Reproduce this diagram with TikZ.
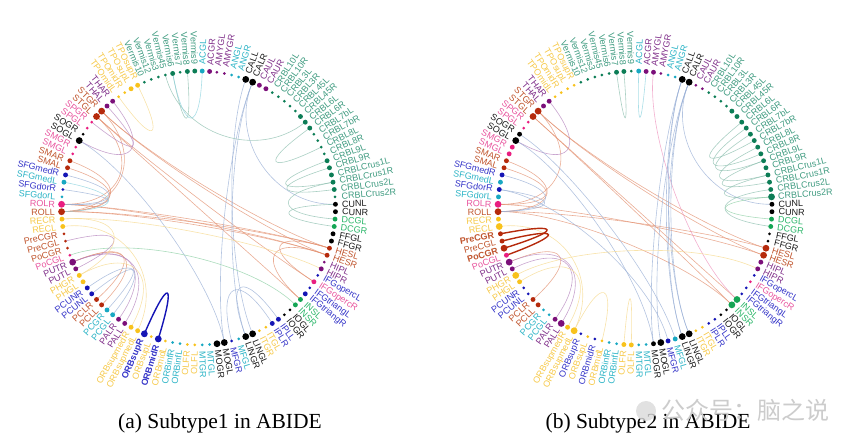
\documentclass[tikz,border=0pt]{standalone}
\usepackage{fontspec}
\setmainfont{Liberation Serif}
\setsansfont{Liberation Sans}
\newfontfamily\cjkfont{Noto Sans CJK SC}
\usetikzlibrary{calc}
\pgfdeclarelayer{chords}
\pgfsetlayers{chords,main}

% region colours: dot / label
\definecolor{gn}{HTML}{0C7D56} \definecolor{gnT}{HTML}{3F9B80}
\definecolor{yl}{HTML}{F8C21C} \definecolor{ylT}{HTML}{F6C94A}
\definecolor{pu}{HTML}{7B0F79} \definecolor{puT}{HTML}{80308A}
\definecolor{br}{HTML}{B52A0C} \definecolor{brT}{HTML}{C0552E}
\definecolor{pk}{HTML}{E91E80} \definecolor{pkT}{HTML}{E8559E}
\definecolor{bl}{HTML}{1515B5} \definecolor{blT}{HTML}{3535C8}
\definecolor{cy}{HTML}{18A8C2} \definecolor{cyT}{HTML}{2DB4C6}
\definecolor{bk}{HTML}{000000} \definecolor{bkT}{HTML}{1A1A1A}
\definecolor{gr}{HTML}{14A554} \definecolor{grT}{HTML}{2CB66A}
% chord colours
\definecolor{brL}{HTML}{E39272}
\definecolor{puL}{HTML}{B685BE}
\definecolor{blL}{HTML}{9AB0D6}
\definecolor{gnL}{HTML}{8DBFAF}
\definecolor{grL}{HTML}{8FD0A6}
\definecolor{cyL}{HTML}{8ED3DF}
\definecolor{ylL}{HTML}{F6D98E}
\definecolor{pkL}{HTML}{EE96BF}

\begin{document}
\begin{tikzpicture}[x=1pt,y=1pt,
    region/.style={font=\sffamily\fontsize{9}{9}\selectfont, inner sep=0pt},
    roi/.style={circle, inner sep=0pt, fill=#1},
    chord/.style={line width=0.6pt, draw opacity=0.75},
    strong/.style={line width=1.4pt},
    caption/.style={font=\fontsize{21.5}{24}\selectfont}]
\useasboundingbox (0,0) rectangle (865,444);

\coordinate (ca) at (198.5,236);
\coordinate (cb) at (635,236);

% dots and labels of the 116 regions, both panels
\foreach \pn/\ctr/\k in {a/ca/1, b/cb/2}{
  \foreach \nm/\col/\sa/\sb/\ba/\bb [count=\i from 0] in {
    ACGL/cy/2/2/0/0, ACGR/pu/2/2/0/0, AMYGL/pu/1/2/0/0, AMYGR/pu/1/1/0/0,
    ANGL/cy/1/1/0/0, ANGR/cy/1/1/0/0, CALL/bk/3/3/0/0, CALR/bk/3/3/0/0,
    CAUL/pu/2/1/0/0, CAUR/pu/2/1/0/0, CRBL10L/gn/1/1/0/0, CRBL10R/gn/1/1/0/0,
    CRBL3L/gn/1/1/0/0, CRBL3R/gn/1/1/0/0, CRBL45L/gn/1/2/0/0, CRBL45R/gn/2/2/0/0,
    CRBL6L/gn/2/2/0/0, CRBL6R/gn/2/2/0/0, CRBL7bL/gn/1/2/0/0, CRBL7bR/gn/1/2/0/0,
    CRBL8L/gn/1/2/0/0, CRBL8R/gn/1/2/0/0, CRBL9L/gn/2/2/0/0, CRBL9R/gn/2/2/0/0,
    CRBLCrus1L/gn/2/2/0/0, CRBLCrus1R/gn/2/2/0/0, CRBLCrus2L/gn/2/2/0/0, CRBLCrus2R/gn/1/3/0/0,
    CUNL/bk/2/2/0/0, CUNR/bk/2/2/0/0, DCGL/gr/2/2/0/0, DCGR/gr/2/2/0/0,
    FFGL/bk/2/1/0/0, FFGR/bk/2/1/0/0, HESL/br/2/3/0/0, HESR/br/2/3/0/0,
    HIPL/pu/1/2/0/0, HIPR/pu/2/2/0/0, IFGopercL/bl/1/1/0/0, IFGopercR/pk/2/1/0/0,
    IFGtriangL/bl/1/1/0/0, IFGtriangR/bl/2/1/0/0, INSL/gr/2/3/0/0, INSR/gr/2/3/0/0,
    IOGL/bk/1/1/0/0, IOGR/bk/1/1/0/0, IPLL/bl/2/1/0/0, IPLR/bl/2/1/0/0,
    ITGL/yl/1/1/0/0, ITGR/yl/1/1/0/0, LINGL/bk/3/3/0/0, LINGR/bk/3/3/0/0,
    MFGL/cy/1/2/0/0, MFGR/bl/1/2/0/0, MOGL/bk/3/3/0/0, MOGR/bk/3/2/0/0,
    MTGL/cy/1/1/0/0, MTGR/cy/1/1/0/0, OLFL/yl/1/2/0/0, OLFR/yl/1/2/0/0,
    ORBinfL/cy/1/1/0/0, ORBinfR/cy/1/1/0/0, ORBmidL/yl/1/1/0/0, ORBmidR/bl/3/1/1/0,
    ORBsupL/yl/1/1/0/0, ORBsupR/bl/3/1/1/0, ORBsupmedL/yl/2/3/0/0, ORBsupmedR/yl/2/2/0/0,
    PALL/pu/2/3/0/0, PALR/pu/2/2/0/0, PCGL/cy/2/1/0/0, PCGR/cy/2/1/0/0,
    PCLL/br/2/2/0/0, PCLR/br/2/2/0/0, PCUNL/bl/2/1/0/0, PCUNR/bl/2/1/0/0,
    PHGL/yl/2/2/0/0, PHGR/yl/2/3/0/0, PUTL/pu/2/2/0/0, PUTR/pu/3/3/0/0,
    PoCGL/pk/1/2/0/0, PoCGR/br/1/3/0/1, PreCGL/br/1/2/0/0, PreCGR/br/1/2/0/1,
    RECL/yl/2/3/0/0, RECR/yl/2/2/0/0, ROLL/br/3/3/0/0, ROLR/pk/3/3/0/0,
    SFGdorL/cy/1/2/0/0, SFGdorR/bl/1/2/0/0, SFGmedL/cy/2/2/0/0, SFGmedR/bl/2/2/0/0,
    SMAL/br/2/2/0/0, SMAR/br/2/2/0/0, SMGL/pk/1/2/0/0, SMGR/pk/1/2/0/0,
    SOGL/bk/3/3/0/0, SOGR/bk/1/2/0/0, SPGL/pk/1/1/0/0, SPGR/pk/1/1/0/0,
    STGL/br/3/3/0/0, STGR/br/3/3/0/0, THAL/pu/2/2/0/0, THAR/pu/2/2/0/0,
    TPOmidL/yl/1/1/0/0, TPOmidR/yl/1/1/0/0, TPOsupL/yl/2/1/0/0, TPOsupR/yl/2/1/0/0,
    Vermis10/gn/1/1/0/0, Vermis12/gn/1/1/0/0, Vermis3/gn/1/1/0/0, Vermis45/gn/1/1/0/0,
    Vermis6/gn/2/1/0/0, Vermis7/gn/1/2/0/0, Vermis8/gn/2/2/0/0, Vermis9/gn/2/1/0/0}{
    \ifnum\k=1 \let\sz\sa \let\bd\ba \else \let\sz\sb \let\bd\bb \fi
    \pgfmathsetmacro\ang{90-(\i+0.5)*(360/116)}
    \pgfmathsetmacro\dd{2*(0.55+0.95*\sz)}
    \ifnum\i<58 \def\anc{west}\pgfmathsetmacro\rot{\ang}\else \def\anc{east}\pgfmathsetmacro\rot{\ang+180}\fi
    \ifnum\bd=1 \def\wt{\bfseries}\else \def\wt{}\fi
    \node[roi=\col, minimum size=\dd pt] (\pn\i) at ($(\ctr)+(\ang:137)$) {};
    \node[region, anchor=\anc, rotate=\rot, text=\col T] (\pn l\i) at ($(\ctr)+(\ang:143.5)$) {\wt\nm};
  }
}

\begin{pgfonlayer}{chords}
  % (a) Subtype1
  \foreach \p/\q/\clr in {101/34/brL, 101/35/brL, 100/42/brL, 100/39/brL, 101/86/brL, 100/87/brL,
      86/34/brL, 86/35/brL, 87/35/brL, 87/34/brL, 86/92/brL, 86/93/brL, 34/39/brL, 35/42/brL,
      73/79/brL, 72/79/brL, 79/69/puL, 79/68/puL, 78/82/puL, 103/96/puL, 102/99/puL,
      6/50/blL, 7/51/blL, 7/54/blL, 7/28/blL, 96/54/blL, 91/87/blL, 89/87/blL, 47/53/blL,
      46/51/blL, 75/70/blL, 74/71/blL, 111/16/gnL, 112/114/gnL, 17/20/gnL, 22/25/gnL,
      23/26/gnL, 30/25/gnL, 28/31/gnL, 43/80/grL, 0/112/cyL, 90/86/cyL,
      107/104/ylL, 84/66/ylL, 85/77/ylL, 85/37/ylL, 67/77/ylL}
    \draw[chord, \clr] (a\p.center) .. controls ($(a\p.center)!0.45!(ca)$) and ($(a\q.center)!0.45!(ca)$) .. (a\q.center);
  \draw[strong, bl] (a65.center) .. controls ($(a65.center)!0.45!(ca)$) and ($(a63.center)!0.45!(ca)$) .. (a63.center);

  % (b) Subtype2
  \foreach \p/\q/\clr in {101/35/brL, 101/34/brL, 100/42/brL, 100/43/brL, 101/87/brL,
      86/34/brL, 87/35/brL, 86/43/brL, 92/87/brL, 93/86/brL, 73/79/brL,
      79/68/puL, 78/69/puL, 103/96/puL, 2/42/pkL,
      6/50/blL, 7/51/blL, 6/51/blL, 7/50/blL, 7/54/blL, 6/55/blL, 7/28/blL, 96/55/blL,
      89/53/blL, 97/52/blL, 91/86/blL, 89/86/blL,
      113/114/gnL, 16/19/gnL, 17/21/gnL, 18/22/gnL, 20/24/gnL, 22/25/gnL, 24/27/gnL,
      30/27/grL, 31/26/gnL, 0/1/cyL,
      77/37/ylL, 84/66/ylL, 67/76/ylL, 59/58/ylL, 66/62/ylL}
    \draw[chord, \clr] (b\p.center) .. controls ($(b\p.center)!0.45!(cb)$) and ($(b\q.center)!0.45!(cb)$) .. (b\q.center);
  \draw[strong, br] (b83.center) .. controls ($(b83.center)!0.45!(cb)$) and ($(b81.center)!0.45!(cb)$) .. (b81.center);
  \draw[strong, br] (b82.center) .. controls ($(b82.center)!0.45!(cb)$) and ($(b80.center)!0.45!(cb)$) .. (b80.center);
\end{pgfonlayer}

\node[caption] (capa) at (220,21) {(a) Subtype1 in ABIDE};
\node[caption] (capb) at (648,21) {(b) Subtype2 in ABIDE};

% watermark
\fill[gray!30, opacity=0.8] (646,33) circle (10);
\node[text=gray!40, font=\cjkfont\fontsize{24}{26}\selectfont, anchor=west, inner sep=0pt] (mark) at (661,34) {公众号：脑之说};
\end{tikzpicture}
\end{document}
